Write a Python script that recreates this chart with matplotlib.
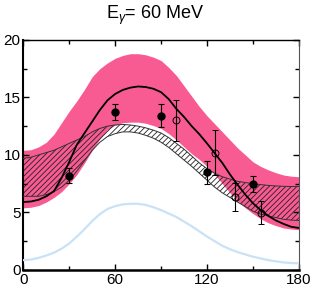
import matplotlib
matplotlib.use("Agg")
import matplotlib.pyplot as plt
from matplotlib.ticker import MultipleLocator
from matplotlib import font_manager

# ---- data ----
angles = [0, 5, 10, 15, 20, 25, 30, 35, 40, 45, 50, 55, 60, 65, 70, 75, 80, 85, 90,
          95, 100, 105, 110, 115, 120, 125, 130, 135, 140, 145, 150, 155, 160, 165, 170, 175, 180]

pink_upper = [10.4, 10.45, 10.7, 11.1, 11.8, 12.8, 13.8, 14.7, 15.7, 16.8, 17.5, 18.0, 18.4,
              18.65, 18.8, 18.8, 18.7, 18.5, 18.2, 17.6, 16.9, 16.0, 15.1, 14.2, 13.4, 12.7,
              12.0, 11.3, 10.6, 10.0, 9.4, 9.0, 8.7, 8.45, 8.25, 8.15, 8.1]
pink_lower = [5.4, 5.45, 5.6, 5.9, 6.3, 6.8, 7.5, 8.3, 9.3, 10.4, 11.4, 12.2, 12.6, 12.8,
              12.85, 12.85, 12.75, 12.55, 12.3, 11.85, 11.3, 10.7, 10.1, 9.6, 9.0, 8.3, 7.5,
              6.7, 6.0, 5.4, 4.9, 4.45, 4.1, 3.85, 3.65, 3.55, 3.5]

hatch_upper = [9.7, 9.8, 10.0, 10.2, 10.4, 10.7, 11.0, 11.3, 11.6, 12.0, 12.3, 12.5, 12.6,
               12.65, 12.6, 12.5, 12.35, 12.15, 11.9, 11.5, 11.0, 10.5, 9.9, 9.3, 8.8, 8.4,
               8.1, 7.9, 7.7, 7.6, 7.5, 7.42, 7.35, 7.3, 7.27, 7.25, 7.25]
hatch_lower = [6.4, 6.4, 6.4, 6.55, 6.8, 7.2, 7.8, 8.6, 9.5, 10.4, 11.1, 11.6, 11.85, 12.0,
               12.0, 11.9, 11.7, 11.45, 11.1, 10.65, 10.1, 9.55, 9.0, 8.4, 7.8, 7.2, 6.7,
               6.3, 5.9, 5.5, 5.1, 4.85, 4.7, 4.55, 4.4, 4.33, 4.3]

black_curve = [5.9, 5.95, 6.1, 6.4, 6.85, 8.0, 9.4, 10.9, 11.9, 12.9, 13.9, 14.75, 15.3,
               15.65, 15.85, 15.95, 15.9, 15.75, 15.45, 14.85, 14.0, 13.3, 12.5, 11.8, 11.0,
               10.15, 9.3, 8.3, 7.4, 6.55, 5.8, 5.2, 4.7, 4.3, 4.0, 3.75, 3.65]
blue_curve = [0.85, 0.9, 1.05, 1.25, 1.5, 1.85, 2.3, 2.9, 3.55, 4.25, 4.85, 5.3, 5.55,
              5.7, 5.75, 5.75, 5.65, 5.45, 5.2, 4.9, 4.6, 4.2, 3.8, 3.35, 2.9, 2.5, 2.1,
              1.8, 1.55, 1.35, 1.15, 1.0, 0.85, 0.75, 0.65, 0.6, 0.58]

filled_x = [30, 60, 90, 120, 150]
filled_y = [8.2, 13.75, 13.4, 8.5, 7.45]
filled_err = [0.65, 0.7, 1.0, 1.0, 0.7]

open_x = [100, 125, 138, 155]
open_y = [13.0, 10.2, 6.35, 4.95]
open_err = [1.8, 1.95, 1.25, 1.0]

x_ticks = [0, 60, 120, 180]
y_ticks = [0, 5, 10, 15, 20]
title = r"E$_\gamma$= 60 MeV"

# ---- font ----
names = {f.name for f in font_manager.fontManager.ttflist}
fam = "Liberation Sans Narrow" if "Liberation Sans Narrow" in names else "Liberation Sans"
plt.rcParams["font.family"] = [fam, "DejaVu Sans"]
plt.rcParams["mathtext.fontset"] = "custom"
plt.rcParams["mathtext.rm"] = fam
plt.rcParams["mathtext.it"] = fam + ":italic"
plt.rcParams["hatch.linewidth"] = 0.6

fig = plt.figure(figsize=(3.11, 2.89), dpi=100)
ax = fig.add_axes([0.075, 0.066, 0.886, 0.796])

pink = "#f85a92"
ax.fill_between(angles, pink_lower, pink_upper, color=pink, lw=0, zorder=1)
ax.fill_between(angles, hatch_lower, hatch_upper, facecolor="none", edgecolor="#222222",
                hatch="//////", lw=0, zorder=2)
ax.plot(angles, hatch_upper, color="#333333", lw=0.7, zorder=3)
ax.plot(angles, hatch_lower, color="#333333", lw=0.7, zorder=3)
ax.plot(angles, blue_curve, color="#c9e2f6", lw=1.6, zorder=3)
ax.plot(angles, black_curve, color="black", lw=1.3, zorder=4)

ax.errorbar(filled_x, filled_y, yerr=filled_err, fmt="o", color="black", ms=5,
            elinewidth=0.8, capsize=2, capthick=0.8, zorder=5)
ax.errorbar(open_x, open_y, yerr=open_err, fmt="o", color="black", mfc="none", mew=0.7,
            ms=5, elinewidth=0.8, capsize=2, capthick=0.8, zorder=5)

ax.set_xlim(0, 180)
ax.set_ylim(0, 20)
ax.set_xticks(x_ticks)
ax.set_yticks(y_ticks)
ax.xaxis.set_minor_locator(MultipleLocator(30))
ax.yaxis.set_minor_locator(MultipleLocator(2.5))
ax.tick_params(which="both", direction="in", top=True, right=True, labelsize=11, pad=2)
ax.tick_params(which="major", length=4, width=1)
ax.tick_params(which="minor", length=3, width=1)

ax.spines["left"].set_linewidth(1.5)
ax.spines["bottom"].set_linewidth(1.8)
ax.spines["top"].set_linewidth(1.0)
ax.spines["right"].set_linewidth(0.8)
ax.spines["right"].set_color("#555555")

fig.text(0.50, 0.935, title, ha="center", va="baseline", fontsize=13)

fig.savefig("out.png", dpi=100)
